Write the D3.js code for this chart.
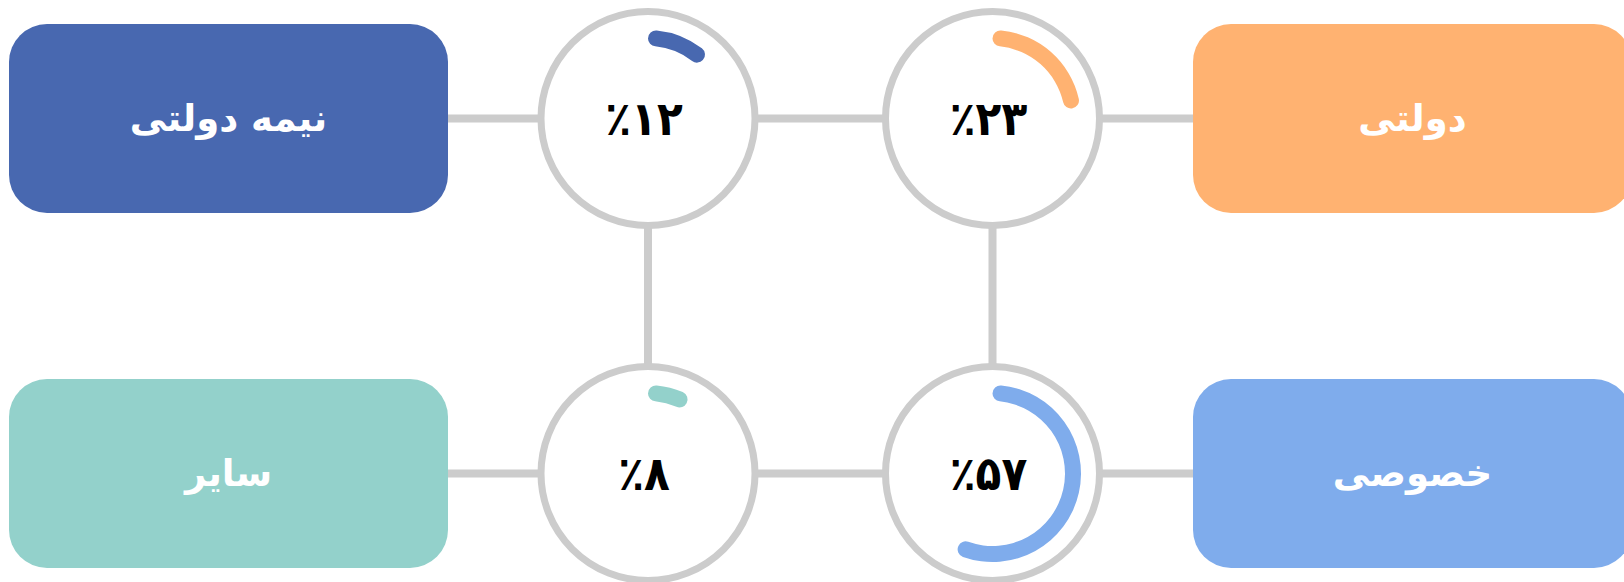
<!DOCTYPE html>
<html>
<head>
<meta charset="utf-8">
<script src="https://cdn.jsdelivr.net/npm/d3@7"></script>
<style>
  body { margin: 0; background: #fff; overflow: hidden; }
  svg { display: block; }
</style>
</head>
<body>
<svg id="chart"></svg>
<script>
// categories, shares (%) and colours, one entry per box
let categories = ["نیمه دولتی", "دولتی", "سایر", "خصوصی"]
let values = [12, 23, 8, 57]
let colors = ["#4868b0", "#ffb271", "#93d1cb", "#7facec"]
let rows = ["top", "top", "bottom", "bottom"]
let sides = ["left", "right", "left", "right"]

let width = 1624
let height = 582
let boxW = 439
let boxH = 189
let ringR = 107
let arcR = 80.5
let arcW = 16
let lineColor = "#cccccc"

let faDigits = "۰۱۲۳۴۵۶۷۸۹"
function toPersian(n) {
    return "٪" + String(n).replace(/\d/g, (d) => faDigits[+d])
}

let svg = d3.select("#chart")
    .attr("width", width)
    .attr("height", height)

// rows and columns
let Y = d3.scalePoint()
          .domain(["top", "bottom"])
          .range([118.5, 473.5])

let circleX = d3.scaleOrdinal()
                .domain(["left", "right"])
                .range([648, 992.5])

let boxX = d3.scaleOrdinal()
             .domain(["left", "right"])
             .range([9, 1193])

// share -> angle
let A = d3.scaleLinear()
          .domain([0, 100])
          .range([0, 2 * Math.PI])

let data = categories.map((c, i) => {
    return { name: c, value: values[i], color: colors[i], row: rows[i], side: sides[i] }
})

// connector lines
let g = svg.append("g")
Y.domain().forEach((r) => {
    g.append("line")
     .attr("x1", boxX("left") + boxW)
     .attr("x2", boxX("right"))
     .attr("y1", Y(r))
     .attr("y2", Y(r))
     .attr("stroke", lineColor)
     .attr("stroke-width", 8)
})
circleX.domain().forEach((s) => {
    g.append("line")
     .attr("x1", circleX(s))
     .attr("x2", circleX(s))
     .attr("y1", Y("top"))
     .attr("y2", Y("bottom"))
     .attr("stroke", lineColor)
     .attr("stroke-width", 8)
})

// boxes
let boxes = svg.selectAll("g.box")
               .data(data)
               .enter()
               .append("g")
               .attr("class", "box")

boxes.append("rect")
     .attr("x", (d) => boxX(d.side))
     .attr("y", (d) => Y(d.row) - boxH / 2)
     .attr("width", boxW)
     .attr("height", boxH)
     .attr("rx", 38)
     .attr("fill", (d) => d.color)

boxes.append("text")
     .attr("x", (d) => boxX(d.side) + boxW / 2)
     .attr("y", (d) => Y(d.row) + 12)
     .attr("text-anchor", "middle")
     .attr("direction", "rtl")
     .attr("fill", "#fff")
     .style("font-family", "'DejaVu Sans'")
     .style("font-weight", "bold")
     .style("font-size", "37px")
     .text((d) => d.name)

// rings
let rings = svg.selectAll("g.ring")
               .data(data)
               .enter()
               .append("g")
               .attr("class", "ring")
               .attr("transform", (d) => "translate(" + circleX(d.side) + "," + Y(d.row) + ")")

rings.append("circle")
     .attr("r", ringR)
     .attr("fill", "#fff")
     .attr("stroke", lineColor)
     .attr("stroke-width", 7)

let arc = d3.arc()
            .innerRadius(arcR - arcW / 2)
            .outerRadius(arcR + arcW / 2)
            .cornerRadius(arcW / 2)
            .startAngle(0)
            .endAngle((d) => A(d.value))

rings.append("path")
     .attr("d", arc)
     .attr("fill", (d) => d.color)

rings.append("text")
     .attr("x", -4)
     .attr("y", 16)
     .attr("text-anchor", "middle")
     .attr("fill", "#000")
     .style("font-family", "'DejaVu Sans Condensed', 'DejaVu Sans'")
     .style("font-weight", "bold")
     .style("font-size", "47px")
     .text((d) => toPersian(d.value))
</script>
</body>
</html>
